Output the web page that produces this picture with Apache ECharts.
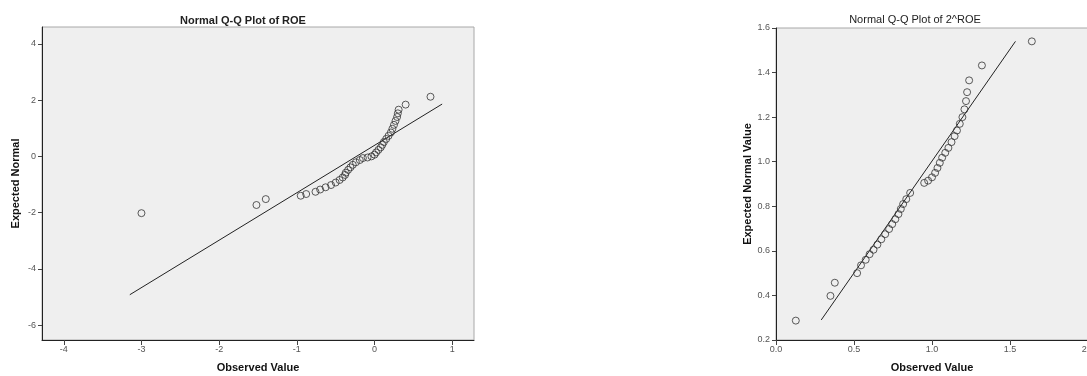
<!DOCTYPE html>
<html>
<head>
<meta charset="utf-8">
<script src="https://cdn.jsdelivr.net/npm/echarts@6/dist/echarts.min.js"></script>
<style>
html,body{margin:0;padding:0;background:#fff;}
#c{width:1087px;height:376px;}
</style>
</head>
<body>
<div id="c"></div>
<script>
// ---- Left chart: Normal Q-Q Plot of ROE ----
var roeObserved = [-3.00,-1.52,-1.40,-0.95,-0.88,-0.76,-0.70,-0.63,-0.56,-0.50,-0.45,-0.41,-0.38,-0.37,-0.34,-0.31,-0.28,-0.24,-0.19,-0.15,-0.09,-0.04,0.00,0.02,0.05,0.08,0.10,0.12,0.15,0.18,0.21,0.23,0.25,0.27,0.29,0.30,0.31,0.40,0.72];
var roeExpected = [-2.02,-1.73,-1.52,-1.40,-1.34,-1.26,-1.18,-1.10,-1.02,-0.93,-0.84,-0.75,-0.66,-0.58,-0.48,-0.39,-0.30,-0.21,-0.13,-0.06,-0.04,0.00,0.06,0.14,0.23,0.32,0.41,0.51,0.62,0.73,0.85,0.98,1.12,1.26,1.40,1.53,1.66,1.84,2.12];
var roeLineX = [-3.15, 0.87];
var roeLineY = [-4.92, 1.86];
var roeXTicks = [-4,-3,-2,-1,0,1];
var roeYTicks = [-6,-4,-2,0,2,4];

// ---- Right chart: Normal Q-Q Plot of 2^ROE ----
var p2Observed = [0.127,0.349,0.377,0.520,0.545,0.575,0.600,0.625,0.650,0.675,0.700,0.725,0.745,0.765,0.785,0.800,0.815,0.835,0.860,0.950,0.975,1.000,1.020,1.035,1.050,1.065,1.085,1.105,1.125,1.145,1.160,1.178,1.195,1.208,1.218,1.225,1.238,1.320,1.640];
var p2Expected = [0.287,0.398,0.457,0.500,0.535,0.560,0.585,0.605,0.628,0.652,0.675,0.698,0.720,0.742,0.765,0.788,0.810,0.832,0.860,0.905,0.915,0.930,0.950,0.972,0.995,1.018,1.040,1.062,1.088,1.115,1.140,1.170,1.200,1.235,1.272,1.312,1.365,1.432,1.540];
var p2LineX = [0.29, 1.535];
var p2LineY = [0.29, 1.54];
var p2XTicks = [0, 0.5, 1.0, 1.5, 2.0];
var p2YTicks = [0.2,0.4,0.6,0.8,1.0,1.2,1.4,1.6];

function zip(a, b){ return a.map(function(v,i){ return [v, b[i]]; }); }

var font = 'Liberation Sans, Arial, sans-serif';
var labelStyle = {color:'#555', fontSize:9, fontFamily:font};
var nameStyle = {color:'#111', fontSize:11, fontWeight:'bold', fontFamily:font};

var chart = echarts.init(document.getElementById('c'), null, {renderer:'canvas'});
chart.setOption({
  backgroundColor:'#ffffff',
  animation:false,
  title:[
    {text:'Normal Q-Q Plot of ROE', left:238, top:10, textAlign:'center',
     textStyle:{fontSize:11, fontWeight:'bold', color:'#222', fontFamily:font}},
    {text:'Normal Q-Q Plot of 2^ROE', left:910, top:9, textAlign:'center',
     textStyle:{fontSize:11, fontWeight:'normal', color:'#222', fontFamily:font}}
  ],
  grid:[
    {left:42, top:27, width:432, height:313, show:true, backgroundColor:'#efefef', borderColor:'#a8a8a8', borderWidth:1, outerBoundsMode:'none', containLabel:false},
    {left:776, top:28, width:312, height:312, show:true, backgroundColor:'#efefef', borderColor:'#a8a8a8', borderWidth:1, outerBoundsMode:'none', containLabel:false}
  ],
  xAxis:[
    {gridIndex:0, type:'value', min:-4.28, max:1.28,
     name:'Observed Value', nameLocation:'middle', nameGap:22, nameTextStyle:nameStyle,
     splitLine:{show:false},
     axisLine:{show:true, onZero:false, lineStyle:{color:'#222', width:1}},
     axisTick:{show:true, inside:false, length:5, lineStyle:{color:'#444'}, customValues:roeXTicks},
     axisLabel:Object.assign({margin:5, customValues:roeXTicks, formatter:function(v){return String(v);}}, labelStyle)},
    {gridIndex:1, type:'value', min:0, max:2.0,
     name:'Observed Value', nameLocation:'middle', nameGap:22, nameTextStyle:nameStyle,
     splitLine:{show:false},
     axisLine:{show:true, onZero:false, lineStyle:{color:'#222', width:1}},
     axisTick:{show:true, inside:false, length:5, lineStyle:{color:'#444'}, customValues:p2XTicks},
     axisLabel:Object.assign({margin:5, customValues:p2XTicks, formatter:function(v){return v.toFixed(1);}}, labelStyle)}
  ],
  yAxis:[
    {gridIndex:0, type:'value', min:-6.53, max:4.6,
     name:'Expected Normal', nameLocation:'middle', nameGap:21, nameTextStyle:nameStyle,
     splitLine:{show:false},
     axisLine:{show:true, onZero:false, lineStyle:{color:'#222', width:1}},
     axisTick:{show:true, inside:false, length:4, lineStyle:{color:'#444'}, customValues:roeYTicks},
     axisLabel:Object.assign({margin:6, customValues:roeYTicks, formatter:function(v){return String(v);}}, labelStyle)},
    {gridIndex:1, type:'value', min:0.2, max:1.6,
     name:'Expected Normal Value', nameLocation:'middle', nameGap:23, nameTextStyle:nameStyle,
     splitLine:{show:false},
     axisLine:{show:true, onZero:false, lineStyle:{color:'#222', width:1}},
     axisTick:{show:true, inside:false, length:4, lineStyle:{color:'#444'}, customValues:p2YTicks},
     axisLabel:Object.assign({margin:6, customValues:p2YTicks, formatter:function(v){return v.toFixed(1);}}, labelStyle)}
  ],
  series:[
    {type:'line', xAxisIndex:0, yAxisIndex:0, data:zip(roeLineX, roeLineY), symbol:'none',
     lineStyle:{color:'#222', width:1}, z:2, silent:true},
    {type:'scatter', xAxisIndex:0, yAxisIndex:0, data:zip(roeObserved, roeExpected), symbol:'circle', symbolSize:7,
     itemStyle:{color:'rgba(0,0,0,0)', borderColor:'#333', borderWidth:1}, z:3},
    {type:'line', xAxisIndex:1, yAxisIndex:1, data:zip(p2LineX, p2LineY), symbol:'none',
     lineStyle:{color:'#222', width:1}, z:2, silent:true},
    {type:'scatter', xAxisIndex:1, yAxisIndex:1, data:zip(p2Observed, p2Expected), symbol:'circle', symbolSize:7,
     itemStyle:{color:'rgba(0,0,0,0)', borderColor:'#333', borderWidth:1}, z:3}
  ]
});
</script>
</body>
</html>
